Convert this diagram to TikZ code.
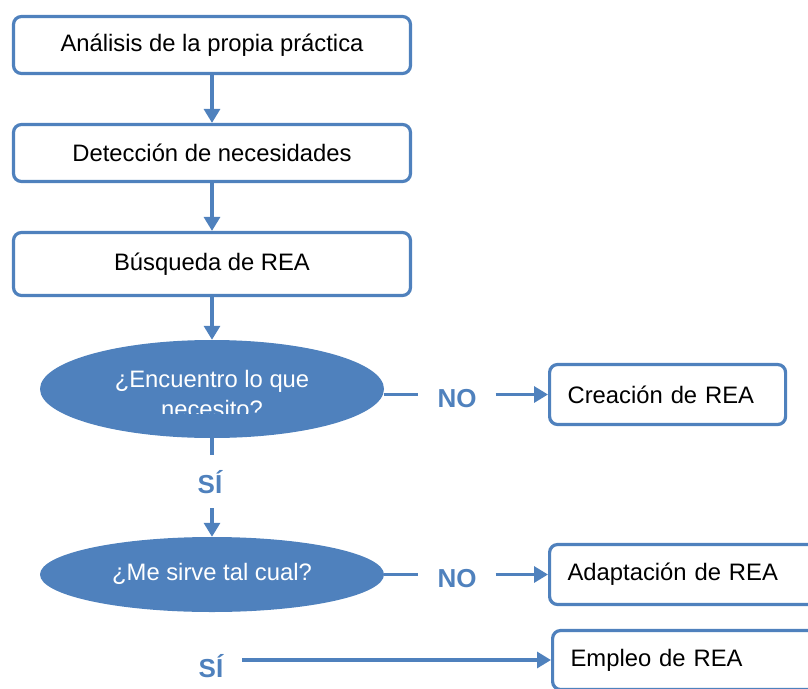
\documentclass[tikz,border=0pt]{standalone}
\usepackage{fontspec}
\setmainfont{Liberation Sans}
\usepackage{tikz}
\usetikzlibrary{shapes.geometric}
\usetikzlibrary{arrows.meta}
\usepackage{xcolor}
\definecolor{ColA}{RGB}{79,129,189}
\tikzstyle{StepBox}=[rectangle,rounded corners=8pt,draw=ColA,line width=3.2pt,fill=white,
minimum width=397pt,minimum height=57pt,font=\fontsize{23.8}{28}\selectfont]
\tikzstyle{SideBox}=[StepBox,minimum width=0pt,minimum height=60pt,text width=200pt,
align=left,inner xsep=18pt,anchor=west]
\tikzstyle{QuestNode}=[ellipse,fill=ColA,draw=none,minimum width=344pt]
\tikzstyle{QuestText}=[text=white,font=\fontsize{23.8}{28}\selectfont,anchor=base,inner sep=0pt]
\tikzstyle{AnswerText}=[text=ColA,font=\bfseries\fontsize{26}{30}\selectfont,
inner xsep=19pt,inner ysep=15pt,anchor=base]
\tikzstyle{EdgeLine}=[ColA,line width=3.2pt]
\tikzstyle{EdgeArrow}=[EdgeLine,-{Triangle[length=14pt,width=16pt]}]

\begin{document}
\begin{tikzpicture}[x=1pt,y=1pt]
        \clip(0,0)rectangle(808,-688);
        \node[StepBox](ana)at(212,-45){Análisis de la propia práctica};
        \node[StepBox](det)at(212,-153){Detección de necesidades};
        \node[StepBox,minimum height=63pt](bus)at(212,-264){Búsqueda de REA};
        \node[QuestNode,minimum height=98pt](enc)at(212,-389){};
        \node[QuestText](encA)at(212,-387){¿Encuentro lo que};
        \begin{scope}
            \clip(0,-340)rectangle(808,-413);
            \node[QuestText](encB)at(212,-417){necesito?};
        \end{scope}
        \node[QuestNode,minimum height=75pt](mes)at(212,-574.5){};
        \node[QuestText](mesA)at(212,-580){¿Me sirve tal cual?};
        \node[AnswerText](noA)at(457,-407){NO};
        \node[AnswerText](noB)at(457,-587){NO};
        \node[AnswerText](siA)at(210,-493){SÍ};
        \node[AnswerText](siB)at(211,-677){SÍ};
        \node[SideBox](cre)at(548,-394.5){Creación de REA};
        \node[SideBox,text width=300pt](ada)at(548,-574.5){Adaptación de REA};
        \node[SideBox,text width=300pt,minimum height=59pt](emp)at(551,-660){Empleo de REA};
        \draw[EdgeArrow](ana)--(det);
        \draw[EdgeArrow](det)--(bus);
        \draw[EdgeArrow](bus)--(enc);
        \draw[EdgeLine](enc.south)--(enc.south|-siA.north);
        \draw[EdgeArrow](siA.south-|mes.north)--(mes.north);
        \draw[EdgeLine](enc.east|-cre.west)--(noA.west|-cre.west);
        \draw[EdgeArrow](noA.east|-cre.west)--(cre.west);
        \draw[EdgeLine](mes.east|-ada.west)--(noB.west|-ada.west);
        \draw[EdgeArrow](noB.east|-ada.west)--(ada.west);
        \draw[EdgeArrow](siB.east|-emp.west)--(emp.west);
    \end{tikzpicture}
\end{document}
